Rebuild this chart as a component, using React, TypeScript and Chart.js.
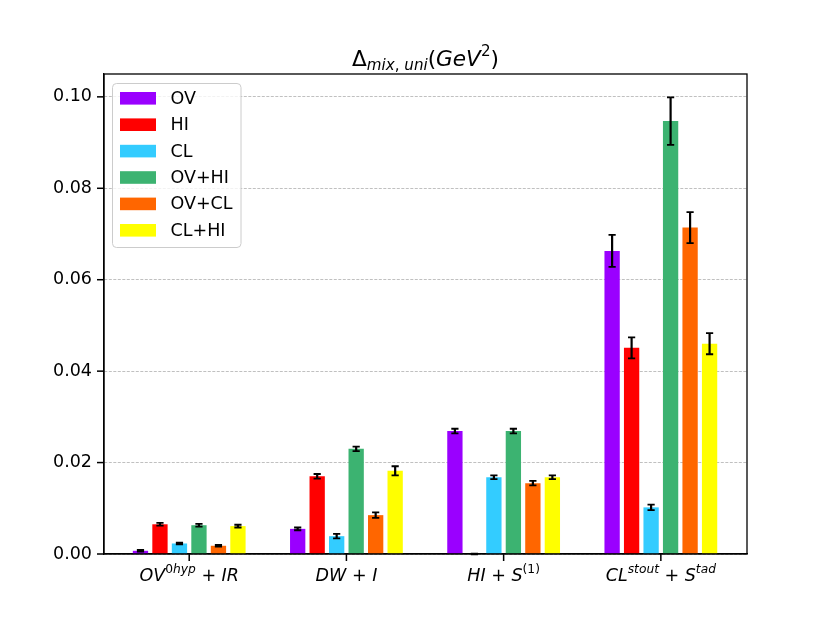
import React, { useEffect, useRef } from "react";
import { Chart, registerables } from "chart.js";

Chart.register(...registerables);

// categories (plain names) and their math-style tick labels
const categories = ["OV0hyp+IR", "DW+I", "HI+S(1)", "CLstout+Stad"];
type Seg = { t: string; it?: boolean; pos?: "sup" | "sub" };
const tickLabels: Seg[][] = [
  [{ t: "OV", it: true }, { t: "0", pos: "sup" }, { t: "hyp", it: true, pos: "sup" }, { t: " + " }, { t: "IR", it: true }],
  [{ t: "DW", it: true }, { t: " + " }, { t: "I", it: true }],
  [{ t: "HI", it: true }, { t: " + " }, { t: "S", it: true }, { t: "(1)", pos: "sup" }],
  [{ t: "CL", it: true }, { t: "stout", it: true, pos: "sup" }, { t: " + " }, { t: "S", it: true }, { t: "tad", it: true, pos: "sup" }],
];
const titleSegs: Seg[] = [
  { t: "Δ" },
  { t: "mix", it: true, pos: "sub" },
  { t: ", ", pos: "sub" },
  { t: "uni", it: true, pos: "sub" },
  { t: "(" },
  { t: "GeV", it: true },
  { t: "2", pos: "sup" },
  { t: ")" },
];

const seriesNames = ["OV", "HI", "CL", "OV+HI", "OV+CL", "CL+HI"];
const seriesColors = ["#9a00ff", "#ff0000", "#33ccff", "#3cb371", "#ff6600", "#ffff00"];

const ovValues = [0.0007, 0.0055, 0.0269, 0.0663];
const hiValues = [0.0065, 0.017, 0.0, 0.0451];
const clValues = [0.0023, 0.0039, 0.0168, 0.0102];
const ovHiValues = [0.0063, 0.023, 0.0269, 0.0947];
const ovClValues = [0.0018, 0.0085, 0.0155, 0.0714];
const clHiValues = [0.0061, 0.0182, 0.0168, 0.046];

const ovErrors = [0.0002, 0.0003, 0.0005, 0.0035];
const hiErrors = [0.0003, 0.0005, 0.0001, 0.0023];
const clErrors = [0.0002, 0.0005, 0.0004, 0.0006];
const ovHiErrors = [0.0003, 0.0005, 0.0005, 0.0052];
const ovClErrors = [0.0002, 0.0006, 0.0005, 0.0034];
const clHiErrors = [0.0003, 0.001, 0.0004, 0.0023];

const yTickValues = [0, 0.02, 0.04, 0.06, 0.08, 0.1];

const allValues = [ovValues, hiValues, clValues, ovHiValues, ovClValues, clHiValues];
const allErrors = [ovErrors, hiErrors, clErrors, ovHiErrors, ovClErrors, clHiErrors];

const FONT = "'DejaVu Sans'";
const TICK_SIZE = 17.5;

const fontFor = (s: Seg, size: number) => {
  const sz = s.pos ? size * 0.7 : size;
  return `${s.it ? "oblique " : ""}${sz}px ${FONT}`;
};

const measureSegs = (ctx: CanvasRenderingContext2D, segs: Seg[], size: number) => {
  let w = 0;
  segs.forEach((s) => {
    ctx.font = fontFor(s, size);
    w += ctx.measureText(s.t).width;
  });
  return w;
};

const drawSegs = (ctx: CanvasRenderingContext2D, segs: Seg[], cx: number, baseY: number, size: number) => {
  let x = cx - measureSegs(ctx, segs, size) / 2;
  ctx.textAlign = "left";
  ctx.textBaseline = "alphabetic";
  ctx.fillStyle = "#000";
  segs.forEach((s) => {
    ctx.font = fontFor(s, size);
    let y = baseY;
    if (s.pos === "sup") y -= size * 0.45;
    if (s.pos === "sub") y += size * 0.2;
    ctx.fillText(s.t, x, y);
    x += ctx.measureText(s.t).width;
  });
};

const extrasPlugin = {
  id: "extras",
  afterDatasetsDraw(chart: any) {
    const ctx = chart.ctx as CanvasRenderingContext2D;
    const yScale = chart.scales.y;
    ctx.save();
    ctx.setLineDash([]);
    ctx.strokeStyle = "#000";
    chart.data.datasets.forEach((ds: any, i: number) => {
      const meta = chart.getDatasetMeta(i);
      meta.data.forEach((bar: any, j: number) => {
        const v = allValues[i][j];
        const e = allErrors[i][j];
        const yTop = yScale.getPixelForValue(v + e);
        const yBot = yScale.getPixelForValue(v - e);
        ctx.lineWidth = 2.2;
        ctx.beginPath();
        ctx.moveTo(bar.x, yTop);
        ctx.lineTo(bar.x, yBot);
        ctx.stroke();
        ctx.lineWidth = 1.8;
        ctx.beginPath();
        ctx.moveTo(bar.x - 3.6, yTop);
        ctx.lineTo(bar.x + 3.6, yTop);
        ctx.moveTo(bar.x - 3.6, yBot);
        ctx.lineTo(bar.x + 3.6, yBot);
        ctx.stroke();
      });
    });
    ctx.restore();
  },
  afterDraw(chart: any) {
    const ctx = chart.ctx as CanvasRenderingContext2D;
    const { left, right, top, bottom } = chart.chartArea;
    const xScale = chart.scales.x;
    const yScale = chart.scales.y;
    ctx.save();
    ctx.setLineDash([]);
    // frame
    ctx.strokeStyle = "#000";
    ctx.lineWidth = 1.3;
    ctx.strokeRect(left, top, right - left, bottom - top);
    // tick marks
    ctx.fillStyle = "#000";
    yTickValues.forEach((v) => {
      const y = yScale.getPixelForValue(v);
      ctx.fillRect(left - 7, y - 0.75, 7, 1.5);
    });
    categories.forEach((_, i) => {
      const x = xScale.getPixelForValue(i);
      ctx.fillRect(x - 0.75, bottom, 1.5, 7);
    });
    // title
    drawSegs(ctx, titleSegs, (left + right) / 2, top - 8, 21.6);
    // x tick labels
    tickLabels.forEach((segs, i) => {
      drawSegs(ctx, segs, xScale.getPixelForValue(i), bottom + 27, TICK_SIZE);
    });
    // legend
    const lx = 112.5;
    const ly = 83.5;
    const lw = 128.5;
    const lh = 164;
    ctx.beginPath();
    ctx.roundRect(lx, ly, lw, lh, 4);
    ctx.fillStyle = "rgba(255,255,255,0.8)";
    ctx.fill();
    ctx.strokeStyle = "#cccccc";
    ctx.lineWidth = 1;
    ctx.stroke();
    ctx.font = `${TICK_SIZE}px ${FONT}`;
    ctx.textBaseline = "middle";
    ctx.textAlign = "left";
    seriesNames.forEach((name, i) => {
      const cy = 98.3 + i * 26.4;
      ctx.fillStyle = seriesColors[i];
      ctx.fillRect(120, cy - 6.3, 36, 12.6);
      ctx.fillStyle = "#000";
      ctx.fillText(name, 170.5, cy + 1);
    });
    ctx.restore();
  },
};

export default function App() {
  const canvasRef = useRef<HTMLCanvasElement | null>(null);
  const chartRef = useRef<Chart | null>(null);

  useEffect(() => {
    document.body.style.margin = "0";
    const ctx = canvasRef.current?.getContext("2d");
    if (!ctx) return;
    if (chartRef.current) chartRef.current.destroy();
    chartRef.current = new Chart(ctx, {
      type: "bar",
      data: {
        datasets: seriesNames.map((name, i) => ({
          label: name,
          data: allValues[i].map((v, j) => ({ x: j, y: v })),
          backgroundColor: seriesColors[i],
          borderWidth: 0,
          categoryPercentage: 0.744,
          barPercentage: 0.785,
        })),
      },
      options: {
        responsive: false,
        animation: false,
        devicePixelRatio: 1,
        layout: { padding: { left: 0, top: 74, right: 83, bottom: 0 } },
        plugins: {
          legend: { display: false },
          tooltip: { enabled: false },
          title: { display: false },
        },
        scales: {
          x: {
            type: "linear",
            offset: false,
            min: -0.542,
            max: 3.548,
            afterFit: (scale: any) => {
              scale.height = 69;
            },
            ticks: {
              stepSize: 1,
              includeBounds: false,
              display: false,
            },
            grid: {
              offset: false,
              drawOnChartArea: false,
              drawTicks: false,
            },
            border: { display: true, color: "#000", width: 1.3 },
          },
          y: {
            min: 0,
            max: 0.105,
            afterFit: (scale: any) => {
              scale.width = 104;
            },
            ticks: {
              stepSize: 0.02,
              includeBounds: false,
              color: "#000",
              padding: 12,
              font: { family: "DejaVu Sans", size: TICK_SIZE },
              callback: (v: any) => Number(v).toFixed(2),
            },
            grid: {
              color: "#b0b0b0",
              lineWidth: 0.8,
              drawTicks: false,
            },
            border: { display: true, color: "#000", width: 1.3, dash: [3, 1.5] },
          },
        },
      },
      plugins: [extrasPlugin],
    } as any);
    return () => {
      chartRef.current?.destroy();
      chartRef.current = null;
    };
  }, []);

  return (
    <div style={{ width: 830, height: 623, background: "#fff" }}>
      <canvas ref={canvasRef} width={830} height={623} />
    </div>
  );
}
